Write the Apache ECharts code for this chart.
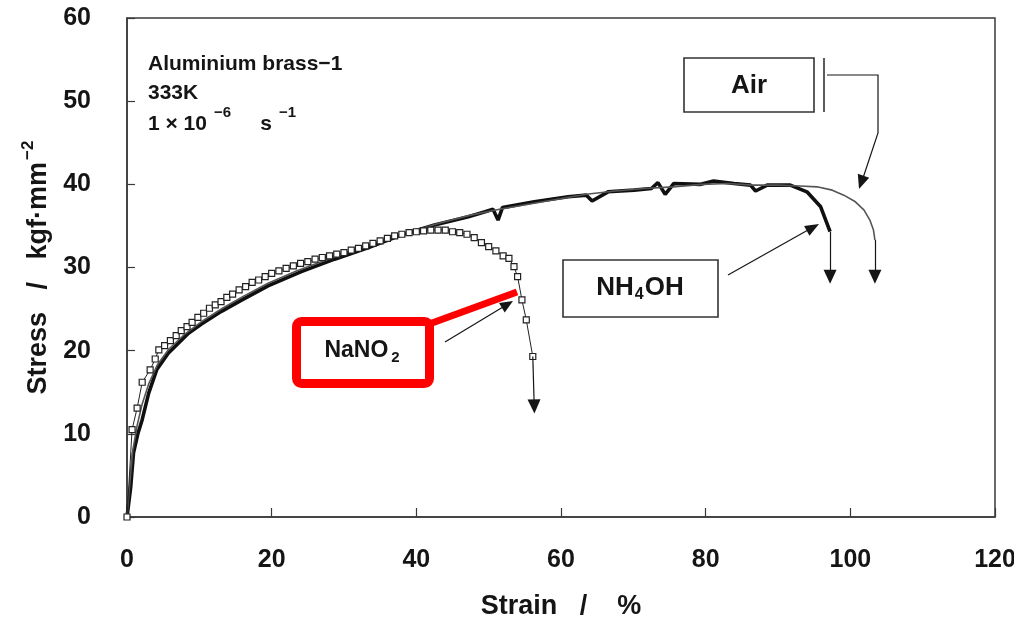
<!DOCTYPE html>
<html>
<head>
<meta charset="utf-8">
<script src="https://cdn.jsdelivr.net/npm/echarts@6/dist/echarts.min.js"></script>
<style>
  html, body { margin: 0; padding: 0; background: #ffffff; }
  #chart { width: 1014px; height: 618px; }
</style>
</head>
<body>
<div id="chart"></div>
<script>
// Stress-strain curves of aluminium brass at 333 K, strain rate 1e-6 s^-1
const strainTicks = [0, 20, 40, 60, 80, 100, 120];
const stressTicks = [0, 10, 20, 30, 40, 50, 60];

// [strain %, stress kgf/mm^2]
const airCurve = [
  [0, 0], [0.4, 4.2], [0.8, 8.0], [1.4, 11.0], [2.1, 13.6], [3.0, 16.0], [4.2, 18.3],
  [5.8, 20.2], [8.0, 22.0], [10.5, 23.6], [13.2, 25.1], [16.0, 26.5], [19.5, 28.1],
  [23.5, 29.6], [27.5, 30.9], [31.5, 32.1], [35.5, 33.3], [39.5, 34.4], [43.5, 35.4],
  [47.5, 36.3], [51.5, 37.0], [55.5, 37.6], [59.5, 38.2], [63.5, 38.8], [67.5, 39.2],
  [71.5, 39.5], [75.5, 39.7], [79.5, 40.0], [83.0, 40.1], [86.5, 39.9], [90.0, 39.9],
  [93.0, 39.8], [95.4, 39.7], [97.5, 39.3], [99.1, 38.7], [100.7, 37.9], [101.9, 36.9],
  [102.7, 35.7], [103.2, 34.5], [103.4, 33.3]
];
const airDrop = [[103.4, 33.3], [103.4, 28.9]];

const nh4ohCurve = [
  [0, 0], [0.5, 3.5], [0.9, 7.7], [1.5, 10.0], [2.1, 11.7], [3.0, 14.9], [4.1, 17.7],
  [5.7, 19.7], [8.5, 22.1], [10.3, 23.2], [13.0, 24.7], [15.9, 26.1], [19.5, 27.8],
  [24.1, 29.5], [28.7, 31.0], [33.4, 32.4], [37.9, 33.9], [42.5, 35.1], [47.2, 36.1],
  [49.5, 36.7], [50.6, 37.0], [51.3, 35.7], [51.9, 37.2], [56.3, 37.9], [61.0, 38.5],
  [63.5, 38.7], [64.3, 38.0], [66.5, 39.1], [70.1, 39.3], [72.5, 39.5], [73.4, 40.2],
  [74.4, 38.8], [75.6, 40.1], [79.3, 40.0], [81.1, 40.4], [83.9, 40.1], [86.2, 39.9],
  [86.9, 39.2], [88.5, 39.9], [91.7, 39.9], [94.0, 39.1], [95.9, 37.3], [97.2, 34.3]
];
const nh4ohDrop = [[97.2, 34.3], [97.2, 28.9]];

const nano2Curve = [
  [0, 0], [0.7, 10.5], [1.4, 13.1], [2.1, 16.2], [3.2, 17.7], [3.9, 19.0], [4.4, 20.1],
  [5.2, 20.6], [6.0, 21.2], [6.8, 21.8], [7.5, 22.4], [8.3, 22.9], [9.0, 23.4],
  [9.8, 24.0], [10.6, 24.5], [11.4, 25.1], [12.2, 25.5], [13.0, 25.9], [13.8, 26.4],
  [14.6, 26.8], [15.5, 27.3], [16.4, 27.7], [17.3, 28.2], [18.2, 28.5], [19.1, 28.9],
  [20.0, 29.3], [21.0, 29.6], [22.0, 29.9], [23.0, 30.2], [24.0, 30.5], [25.0, 30.7],
  [26.0, 31.0], [27.0, 31.2], [28.0, 31.4], [29.0, 31.6], [30.0, 31.8], [31.0, 32.1],
  [32.0, 32.3], [33.0, 32.6], [34.0, 32.9], [35.0, 33.2], [36.0, 33.5], [37.0, 33.8],
  [38.0, 34.0], [39.0, 34.2], [40.0, 34.3], [41.0, 34.4], [42.0, 34.5], [43.0, 34.5],
  [44.0, 34.5], [45.0, 34.3], [46.0, 34.2], [47.0, 34.0], [48.0, 33.6], [49.0, 33.0],
  [50.0, 32.5], [51.0, 32.0], [52.0, 31.4], [52.8, 31.1], [53.5, 30.1], [54.0, 28.9],
  [54.6, 26.1], [55.2, 23.7], [56.1, 19.3]
];
const nano2Drop = [[56.1, 19.3], [56.3, 13.3]];

const FONT = "'Liberation Sans', Arial, sans-serif";
const INK = '#151515';

function dropLine(pts) {
  return {
    silent: true,
    animation: false,
    symbol: ['none', 'triangle'],
    symbolSize: [13, 14],
    label: { show: false },
    emphasis: { disabled: true },
    lineStyle: { color: INK, width: 1.2, type: 'solid' },
    data: [[{ coord: pts[0] }, { coord: pts[1] }]]
  };
}

// filled arrow head at `tip`, pointing away from `from`
function arrowHead(tip, from, len, half) {
  const dx = tip[0] - from[0], dy = tip[1] - from[1];
  const d = Math.hypot(dx, dy), ux = dx / d, uy = dy / d;
  const bx = tip[0] - ux * len, by = tip[1] - uy * len;
  return {
    type: 'polygon',
    shape: { points: [tip, [bx - uy * half, by + ux * half], [bx + uy * half, by - ux * half]] },
    style: { fill: INK }
  };
}
function seg(points, width, color) {
  return { type: 'polyline', shape: { points }, style: { stroke: color || INK, lineWidth: width || 1.2, fill: null } };
}
function box(x, y, w, h, width, color, r) {
  return { type: 'rect', shape: { x, y, width: w, height: h, r: r || 0 },
           style: { stroke: color || '#333', lineWidth: width || 1.5, fill: 'rgba(255,255,255,0)' } };
}

const chart = echarts.init(document.getElementById('chart'));

const axisText = { fontFamily: FONT, fontWeight: 'bold', fontSize: 25, color: INK };

chart.setOption({
  animation: false,
  backgroundColor: '#ffffff',
  grid: {
    left: 127, right: 19, top: 18, bottom: 101,
    show: true, borderColor: '#3a3a3a', borderWidth: 1.5,
    outerBoundsMode: 'none'
  },
  xAxis: {
    type: 'value',
    min: strainTicks[0], max: strainTicks[strainTicks.length - 1], interval: 20,
    axisLine: { show: true, lineStyle: { color: '#3a3a3a', width: 1.5 } },
    axisTick: { show: true, inside: true, length: 9, lineStyle: { color: '#3a3a3a', width: 1.2 } },
    splitLine: { show: false },
    axisLabel: Object.assign({ margin: 31 }, axisText),
    name: 'Strain   /    %',
    nameLocation: 'middle',
    nameGap: 76,
    nameTextStyle: { fontFamily: FONT, fontWeight: 'bold', fontSize: 27, color: INK }
  },
  yAxis: {
    type: 'value',
    min: stressTicks[0], max: stressTicks[stressTicks.length - 1], interval: 10,
    axisLine: { show: true, lineStyle: { color: '#3a3a3a', width: 1.5 } },
    axisTick: { show: true, inside: true, length: 8, lineStyle: { color: '#3a3a3a', width: 1.2 } },
    splitLine: { show: false },
    axisLabel: Object.assign({ margin: 36 }, axisText),
    name: '{a|Stress   /   kgf·mm}{sup|−2}',
    nameLocation: 'middle',
    nameRotate: 90,
    nameGap: 74,
    nameTextStyle: {
      rich: {
        a: { fontFamily: FONT, fontWeight: 'bold', fontSize: 27, color: INK, lineHeight: 32, verticalAlign: 'bottom' },
        sup: { fontFamily: FONT, fontWeight: 'bold', fontSize: 17, color: INK, lineHeight: 17, verticalAlign: 'top', padding: [0, 0, 0, 2] }
      }
    }
  },
  series: [
    {
      name: 'Air',
      type: 'line',
      data: airCurve,
      showSymbol: false,
      smooth: false,
      lineStyle: { color: '#555555', width: 1.6 },
      z: 3,
      markLine: dropLine(airDrop)
    },
    {
      name: 'NH4OH',
      type: 'line',
      data: nh4ohCurve,
      showSymbol: false,
      lineStyle: { color: '#101010', width: 3.6 },
      z: 2,
      markLine: dropLine(nh4ohDrop)
    },
    {
      name: 'NaNO2',
      type: 'line',
      data: nano2Curve,
      showSymbol: true,
      showAllSymbol: true,
      symbol: 'rect',
      symbolSize: 6,
      lineStyle: { color: '#222222', width: 1 },
      itemStyle: { color: '#ffffff', borderColor: '#222222', borderWidth: 1.2 },
      z: 4,
      markLine: dropLine(nano2Drop)
    }
  ],
  graphic: [
    // test conditions
    { type: 'text', x: 148, y: 64,
      style: { text: 'Aluminium brass−1', fontFamily: FONT, fontWeight: 'bold', fontSize: 21, fill: INK, verticalAlign: 'middle' } },
    { type: 'text', x: 148, y: 93,
      style: { text: '333K', fontFamily: FONT, fontWeight: 'bold', fontSize: 21, fill: INK, verticalAlign: 'middle' } },
    { type: 'text', x: 148, y: 120,
      style: {
        text: '{n|1 × 10}{sup|−6}{n|     s}{sup|−1}',
        verticalAlign: 'middle',
        rich: {
          n: { fontFamily: FONT, fontWeight: 'bold', fontSize: 21, fill: INK, lineHeight: 30, verticalAlign: 'bottom' },
          sup: { fontFamily: FONT, fontWeight: 'bold', fontSize: 15, fill: INK, lineHeight: 15, verticalAlign: 'top', padding: [0, 0, 0, 7] }
        }
      } },

    // Air label and leader
    box(684, 58, 130, 54, 1.6),
    { type: 'text', x: 749, y: 86,
      style: { text: 'Air', fontFamily: FONT, fontWeight: 'bold', fontSize: 26, fill: INK, align: 'center', verticalAlign: 'middle' } },
    seg([[824, 58], [824, 112]], 1.6, '#333'),
    seg([[827, 75], [878, 75], [878, 133], [863, 178]], 1.2),
    arrowHead([859, 189], [878, 133], 14, 6),

    // NH4OH label and leader
    box(563, 260, 155, 57, 1.6),
    { type: 'text', x: 640, y: 289,
      style: {
        text: '{a|NH}{sub|4}{a|OH}',
        align: 'center', verticalAlign: 'middle',
        rich: {
          a: { fontFamily: FONT, fontWeight: 'bold', fontSize: 26, fill: INK, lineHeight: 28, verticalAlign: 'top' },
          sub: { fontFamily: FONT, fontWeight: 'bold', fontSize: 16, fill: INK, lineHeight: 16, verticalAlign: 'bottom', padding: [0, 1, 0, 1] }
        }
      } },
    seg([[728, 275], [808, 230]], 1.2),
    arrowHead([819, 224], [728, 275], 14, 5.5),

    // NaNO2 label and leaders
    seg([[445, 342], [503, 307]], 1.2),
    arrowHead([513, 301], [445, 342], 13, 5.5),
    seg([[432, 323], [517, 292]], 7, '#ff0000'),
    box(296.5, 321.5, 133, 62, 9, '#ff0000', 5),
    { type: 'text', x: 362, y: 352,
      style: {
        text: '{a|NaNO}{sub|2}',
        align: 'center', verticalAlign: 'middle',
        rich: {
          a: { fontFamily: FONT, fontWeight: 'bold', fontSize: 23, fill: INK, lineHeight: 26, verticalAlign: 'top' },
          sub: { fontFamily: FONT, fontWeight: 'bold', fontSize: 15, fill: INK, lineHeight: 15, verticalAlign: 'bottom', padding: [0, 0, 0, 3] }
        }
      } }
  ]
});
</script>
</body>
</html>
